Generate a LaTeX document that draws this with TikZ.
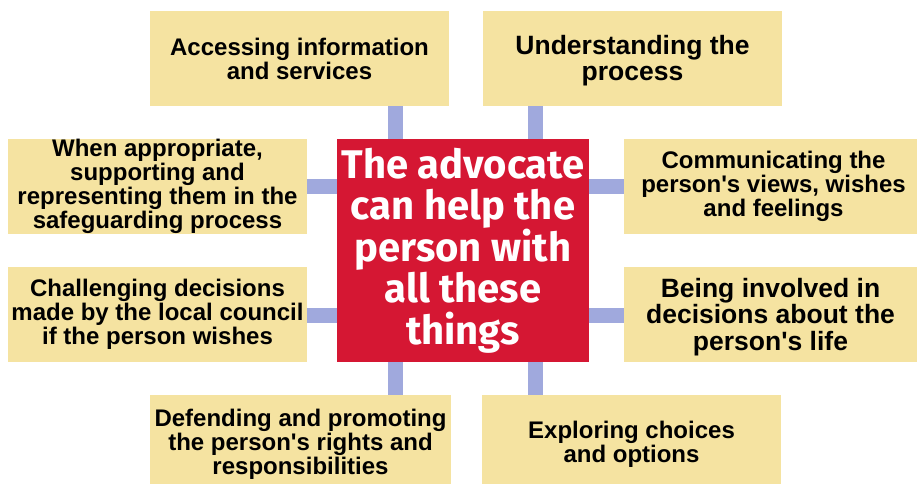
\documentclass[tikz,border=0pt]{standalone}
\usepackage{fontspec}
\setmainfont{Liberation Sans}[Ligatures=TeXOff]
\newfontfamily\firafont{Fira Sans}
\usetikzlibrary{backgrounds}
\definecolor{boxyellow}{HTML}{F5E3A1}
\definecolor{advred}{HTML}{D51733}
\definecolor{connblue}{HTML}{A0A9DD}
\newcommand{\lowerby}[1]{\rule{0pt}{#1}}
\tikzset{
  item/.style={rectangle, fill=boxyellow, inner sep=0pt, align=center,
    font=\bfseries\fontsize{24}{24}\selectfont, text=black},
  bigitem/.style={item, font=\bfseries\fontsize{26.5}{26.5}\selectfont},
  hub/.style={rectangle, fill=advred, inner sep=0pt, align=center, text=white,
    minimum width=252pt, minimum height=223pt,
    font=\firafont\bfseries\fontsize{40}{41.5}\selectfont},
  conn/.style={draw=connblue, line width=15pt}
}
\begin{document}
\begin{tikzpicture}[x=1pt,y=-1pt]
\useasboundingbox (0,0) rectangle (917,484);
\node[hub] (hub) at (463,250.5) {The advocate\\can help the\\person with\\all these\\things};
\node[item, minimum width=299pt, minimum height=95pt] (acc) at (299.5,58.5) {Accessing information\\and services};
\node[bigitem, minimum width=299pt, minimum height=95pt] (und) at (632.5,58.5) {\lowerby{24pt}Understanding the\\process};
\node[item, minimum width=299pt, minimum height=95pt] (when) at (157.5,186.5) {When appropriate,\\supporting and\\representing them in the\\safeguarding process};
\node[item, minimum width=293pt, minimum height=95pt] (comm) at (770.5,186.5) {\hspace*{6pt}Communicating the\\\hspace*{6pt}person's views, wishes\\\hspace*{6pt}and feelings};
\node[item, minimum width=299pt, minimum height=95pt] (chal) at (157.5,314.5) {Challenging decisions\\made by the local council\\if the person wishes};
\node[bigitem, minimum width=293pt, minimum height=95pt] (being) at (770.5,314.5) {\lowerby{23.5pt}Being involved in\\decisions about the\\person's life};
\node[item, minimum width=301pt, minimum height=89pt] (def) at (300.5,439.5) {\lowerby{26pt}Defending and promoting\\the person's rights and\\responsibilities};
\node[item, minimum width=299pt, minimum height=89pt] (expl) at (631.5,439.5) {\lowerby{26pt}Exploring choices\\and options};
\coordinate (xl) at (395,0);
\coordinate (xr) at (535,0);
\coordinate (yt) at (0,186.5);
\coordinate (yb) at (0,315);
\begin{scope}[on background layer]
\draw[conn] (acc.south -| xl) -- (hub.north -| xl);
\draw[conn] (und.south -| xr) -- (hub.north -| xr);
\draw[conn] (when.east |- yt) -- (hub.west |- yt);
\draw[conn] (comm.west |- yt) -- (hub.east |- yt);
\draw[conn] (chal.east |- yb) -- (hub.west |- yb);
\draw[conn] (being.west |- yb) -- (hub.east |- yb);
\draw[conn] (def.north -| xl) -- (hub.south -| xl);
\draw[conn] (expl.north -| xr) -- (hub.south -| xr);
\end{scope}
\end{tikzpicture}
\end{document}
